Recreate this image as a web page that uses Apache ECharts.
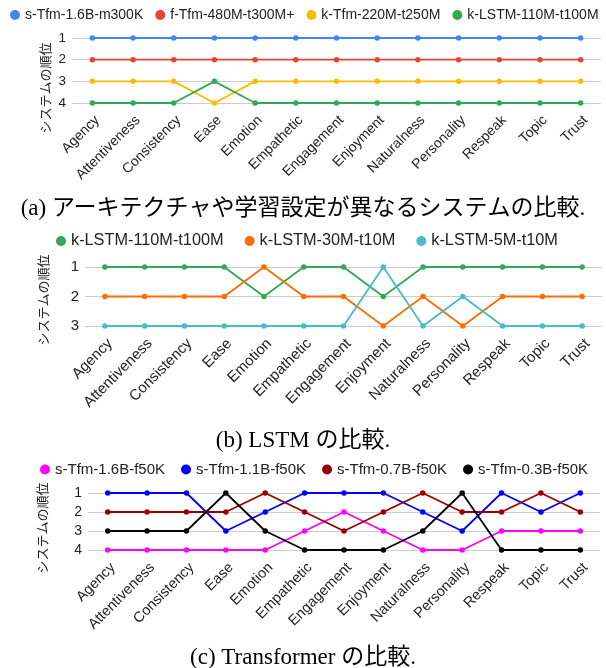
<!DOCTYPE html>
<html>
<head>
<meta charset="utf-8">
<script src="https://cdn.jsdelivr.net/npm/echarts@6/dist/echarts.min.js"></script>
<style>
html, body { margin: 0; padding: 0; background: #fff; }
#Chart { width: 606px; height: 668px; }
</style>
</head>
<body>
<div id="Chart"></div>
<script>
// 評価項目
const categories = ['Agency', 'Attentiveness', 'Consistency', 'Ease', 'Emotion', 'Empathetic', 'Engagement',
    'Enjoyment', 'Naturalness', 'Personality', 'Respeak', 'Topic', 'Trust'];

// (a) アーキテクチャ比較
const namesA = ['s-Tfm-1.6B-m300K', 'f-Tfm-480M-t300M+', 'k-Tfm-220M-t250M', 'k-LSTM-110M-t100M'];
const rankA1 = [1, 1, 1, 1, 1, 1, 1, 1, 1, 1, 1, 1, 1];
const rankA2 = [2, 2, 2, 2, 2, 2, 2, 2, 2, 2, 2, 2, 2];
const rankA3 = [3, 3, 3, 4, 3, 3, 3, 3, 3, 3, 3, 3, 3];
const rankA4 = [4, 4, 4, 3, 4, 4, 4, 4, 4, 4, 4, 4, 4];
const colorsA = ['#4285F4', '#EA4335', '#FBBC04', '#34A853'];

// (b) LSTM比較
const namesB = ['k-LSTM-110M-t100M', 'k-LSTM-30M-t10M', 'k-LSTM-5M-t10M'];
const rankB1 = [1, 1, 1, 1, 2, 1, 1, 2, 1, 1, 1, 1, 1];
const rankB2 = [2, 2, 2, 2, 1, 2, 2, 3, 2, 3, 2, 2, 2];
const rankB3 = [3, 3, 3, 3, 3, 3, 3, 1, 3, 2, 3, 3, 3];
const colorsB = ['#34A853', '#FF6D01', '#46BDC6'];

// (c) Transformer比較
const namesC = ['s-Tfm-1.6B-f50K', 's-Tfm-1.1B-f50K', 's-Tfm-0.7B-f50K', 's-Tfm-0.3B-f50K'];
const rankC1 = [4, 4, 4, 4, 4, 3, 2, 3, 4, 4, 3, 3, 3];
const rankC2 = [1, 1, 1, 3, 2, 1, 1, 1, 2, 3, 1, 2, 1];
const rankC3 = [2, 2, 2, 2, 1, 2, 3, 2, 1, 2, 2, 1, 2];
const rankC4 = [3, 3, 3, 1, 3, 4, 4, 4, 3, 1, 4, 4, 4];
const colorsC = ['#FF00FF', '#0000FF', '#990000', '#000000'];

const yMaxList = [4, 3, 4];
const captions = ['(a) アーキテクチャや学習設定が異なるシステムの比較.', '(b) LSTM の比較.', '(c) Transformer の比較.'];
const yName = 'システムの順位';

const textColor = '#222';
const latin = '"Liberation Sans", Arial, sans-serif';
const jp = '"Noto Sans CJK JP", sans-serif';

// 3つのグラフはそれぞれ文字サイズが少し違う
const grids = [
    { left: 72, right: 5, top: 38, height: 65 },
    { left: 85, right: 4, top: 267, height: 59 },
    { left: 88, right: 6, top: 493, height: 57 }
];
const legendTops = [8, 233, 462];
const legendLefts = [10, 56, 40];
const legendFont = [14, 16.3, 15];
const legendGap = [12, 21, 16];
const xLabelFont = [14, 15, 14.5];
const yLabelFont = [13.5, 15, 14];
const captionTops = [192, 424, 641];
const yNamePos = [[45, 88], [43, 300], [42, 528]];

const groups = [
    { names: namesA, data: [rankA1, rankA2, rankA3, rankA4], colors: colorsA },
    { names: namesB, data: [rankB1, rankB2, rankB3], colors: colorsB },
    { names: namesC, data: [rankC1, rankC2, rankC3, rankC4], colors: colorsC }
];

const option = {
    backgroundColor: '#fff',
    animation: false,
    title: captions.map((t, i) => ({
        text: t,
        left: 'center',
        top: captionTops[i],
        textStyle: {
            color: '#000',
            fontSize: 23,
            fontWeight: 'normal',
            fontFamily: '"Liberation Serif", "Noto Sans CJK JP", serif'
        }
    })),
    legend: groups.map((g, i) => ({
        data: g.names,
        left: legendLefts[i],
        top: legendTops[i],
        width: 606,
        padding: 0,
        icon: 'circle',
        itemWidth: 10,
        itemHeight: 10,
        itemGap: legendGap[i],
        textStyle: { color: textColor, fontSize: legendFont[i], fontFamily: latin }
    })),
    grid: grids,
    xAxis: grids.map((g, i) => ({
        type: 'category',
        gridIndex: i,
        boundaryGap: true,
        data: categories,
        axisLine: { show: false },
        axisTick: { show: false },
        axisLabel: {
            rotate: 45,
            interval: 0,
            margin: 10,
            verticalAlign: 'top',
            color: textColor,
            fontSize: xLabelFont[i],
            fontFamily: latin
        }
    })),
    yAxis: grids.map((g, i) => ({
        type: 'value',
        gridIndex: i,
        inverse: true,
        min: 1,
        max: yMaxList[i],
        interval: 1,
        axisLine: { show: false },
        axisTick: { show: false },
        axisLabel: { color: textColor, fontSize: yLabelFont[i], fontFamily: latin, margin: 6 },
        splitLine: { lineStyle: { color: '#cccccc', width: 1 } }
    })),
    graphic: yNamePos.map(p => ({
        type: 'text',
        x: p[0],
        y: p[1],
        rotation: Math.PI / 2,
        style: {
            text: yName,
            fill: textColor,
            font: '13px ' + jp,
            align: 'center',
            verticalAlign: 'middle'
        }
    })),
    series: []
};

groups.forEach((g, gi) => {
    g.names.forEach((name, si) => {
        option.series.push({
            name: name,
            type: 'line',
            xAxisIndex: gi,
            yAxisIndex: gi,
            symbol: 'circle',
            symbolSize: 5.5,
            color: g.colors[si],
            lineStyle: { width: 1.8, color: g.colors[si] },
            itemStyle: { color: g.colors[si] },
            data: g.data[si]
        });
    });
});

const myChart = echarts.init(document.getElementById('Chart'));
myChart.setOption(option);
</script>
</body>
</html>
